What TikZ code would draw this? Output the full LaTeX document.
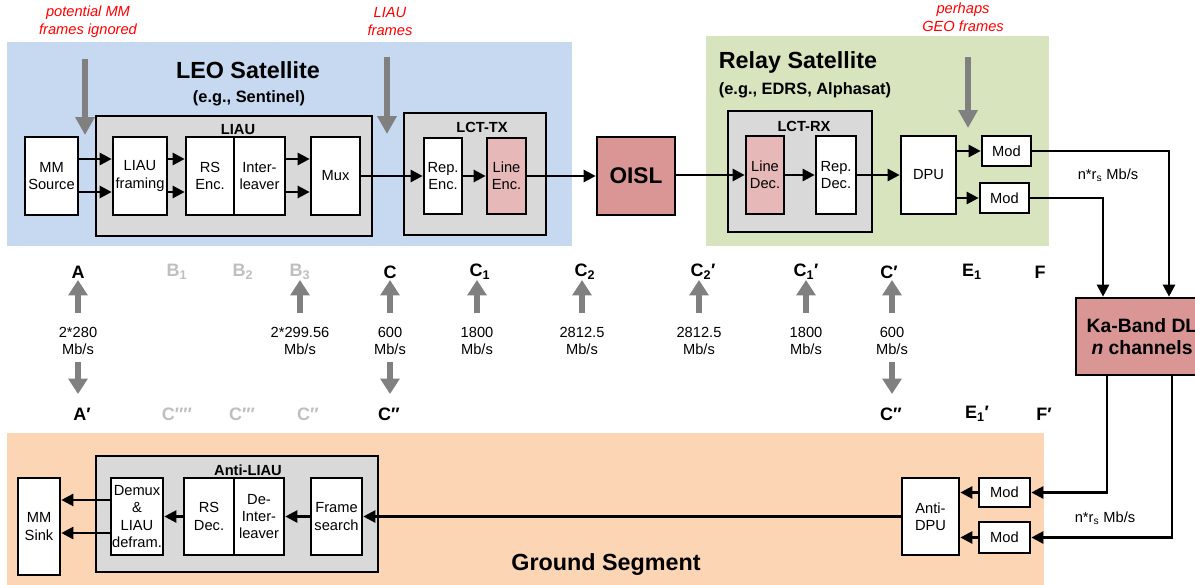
\documentclass[tikz,border=0pt]{standalone}
\usepackage{fontspec}
\setmainfont{Liberation Sans}
\usetikzlibrary{arrows.meta,calc}
\definecolor{leobg}{HTML}{C6D9F1}
\definecolor{relaybg}{HTML}{D7E4BD}
\definecolor{groundbg}{HTML}{FCD5B5}
\definecolor{grpbox}{HTML}{D9D9D9}
\definecolor{oislc}{HTML}{D99694}
\definecolor{linec}{HTML}{E6B9B8}
\definecolor{garrow}{HTML}{808080}
\definecolor{lgray}{HTML}{BFBFBF}
\begin{document}
\begin{tikzpicture}[x=0.75pt,y=-0.75pt,
  rect/.style n args={4}{minimum width={(#3-#1)*0.75pt}, minimum height={(#4-#2)*0.75pt}, at={({(#1+#3)/2},{(#2+#4)/2})}},
  grp/.style={fill=grpbox, draw=black, line width=2pt, inner sep=0pt},
  blk/.style={fill=white, draw=black, line width=2pt, inner sep=0pt, align=center, font=\fontsize{11}{13}\selectfont},
  conn/.style={draw=black, line width=1.9pt, -{Triangle[length=9pt,width=9pt]}},
  bigarrow/.style={draw=garrow, line width=4.5pt, -{Triangle[length=13.5pt,width=14pt]}},
  midarrow/.style={draw=garrow, line width=5pt, -{Triangle[length=11.5pt,width=14pt]}},
  redlbl/.style={text=red, font=\fontsize{11}{13.5}\selectfont\itshape, align=center},
  ptlbl/.style={font=\fontsize{13.5}{16}\selectfont\bfseries, inner sep=0pt},
  gptlbl/.style={ptlbl, text=lgray},
  rate/.style={font=\fontsize{11}{12.75}\selectfont, align=center},
  grplbl/.style={font=\fontsize{11}{13}\selectfont\bfseries},
  titlelbl/.style={font=\fontsize{17.5}{21}\selectfont\bfseries},
  subtitlelbl/.style={font=\fontsize{12.3}{15}\selectfont\bfseries}
]
\clip (0,0) rectangle (1195,585);
\fill[white] (0,0) rectangle (1195,585);

% backgrounds
\fill[leobg] (7,42) rectangle (572,246);
\fill[relaybg] (706,36) rectangle (1049,246);
\fill[groundbg] (7,433) rectangle (1044,585);

% titles
\node[titlelbl] (leot) at (248,70) {LEO Satellite};
\node[subtitlelbl] (leos) at (249,98) {(e.g., Sentinel)};
\node[titlelbl] (relt) at (798,62) {Relay Satellite};
\node[subtitlelbl] (rels) at (805,90) {(e.g., EDRS, Alphasat)};
\node[titlelbl] (grt) at (606,565) {Ground Segment};

% group boxes
\node[grp, rect={96}{116}{372}{236}] (liau) {};
\node[grplbl] (liaul) at (238,130) {LIAU};
\node[grp, rect={404}{113}{546}{235}] (lcttx) {};
\node[grplbl] (lcttxl) at (482,127) {LCT-TX};
\node[grp, rect={728}{111}{872}{232}] (lctrx) {};
\node[grplbl] (lctrxl) at (804,126) {LCT-RX};
\node[grp, rect={96}{456}{378}{572}] (aliau) {};
\node[grplbl] (aliaul) at (248,470) {Anti-LIAU};

% LEO blocks
\node[blk, rect={25}{137}{78}{215}] (mmsrc) {MM\\Source};
\node[blk, rect={113}{137}{167}{215}] (liaufr) {LIAU\\framing};
\node[blk, rect={186}{137}{234}{215}] (rsenc) {RS\\Enc.};
\node[blk, rect={234}{137}{285}{215}] (intl) {Inter-\\leaver};
\node[blk, rect={311}{137}{360}{215}] (mux) {Mux};
\node[blk, rect={424}{138}{462}{214}] (repenc) {Rep.\\Enc.};
\node[blk, fill=linec, rect={487}{138}{526}{214}] (lineenc) {Line\\Enc.};
\node[blk, fill=oislc, font=\fontsize{17}{20}\selectfont\bfseries, rect={597}{137}{675}{215}] (oisl) {OISL};

% Relay blocks
\node[blk, fill=linec, rect={746}{136}{784}{214}] (linedec) {Line\\Dec.};
\node[blk, rect={816}{136}{856}{214}] (repdec) {Rep.\\Dec.};
\node[blk, rect={901}{136}{956}{214}] (dpu) {DPU};
\node[blk, rect={982}{136}{1031}{166}] (mod1) {Mod};
\node[blk, rect={980}{183}{1029}{213}] (mod2) {Mod};

% Ka band
\node[blk, fill=oislc, font=\fontsize{14.5}{16}\selectfont\bfseries, rect={1076}{298}{1208}{375}] (ka) {Ka-Band DL\\\textit{n} channels};

% Ground blocks
\node[blk, rect={18}{478}{60}{575}] (mmsink) {MM\\Sink};
\node[blk, rect={111}{478}{163}{555}] (demux) {Demux\\\&\\LIAU\\defram.};
\node[blk, rect={184}{478}{234}{555}] (rsdec) {RS\\Dec.};
\node[blk, rect={234}{478}{284}{555}] (deint) {De-\\Inter-\\leaver};
\node[blk, rect={311}{478}{362}{555}] (frame) {Frame\\search};
\node[blk, rect={902}{478}{959}{555}] (antidpu) {Anti-\\DPU};
\node[blk, rect={979}{478}{1030}{507}] (mod1g) {Mod};
\node[blk, rect={979}{522}{1030}{553}] (mod2g) {Mod};

% LEO connectors
\draw[conn] ([yshift=12.75pt]mmsrc.east) -- ([yshift=12.75pt]liaufr.west);
\draw[conn] ([yshift=-12pt]mmsrc.east) -- ([yshift=-12pt]liaufr.west);
\draw[conn] ([yshift=12.75pt]liaufr.east) -- ([yshift=12.75pt]rsenc.west);
\draw[conn] ([yshift=-12pt]liaufr.east) -- ([yshift=-12pt]rsenc.west);
\draw[conn] ([yshift=12.75pt]intl.east) -- ([yshift=12.75pt]mux.west);
\draw[conn] ([yshift=-12pt]intl.east) -- ([yshift=-12pt]mux.west);
\draw[conn] (mux.east) -- (mux.east -| repenc.west);
\draw[conn] (repenc.east) -- (repenc.east -| lineenc.west);
\draw[conn] (lineenc.east) -- (lineenc.east -| oisl.west);
\draw[conn] (oisl.east |- linedec.west) -- (linedec.west);
\draw[conn] (linedec.east) -- (linedec.east -| repdec.west);
\draw[conn] (repdec.east) -- (repdec.east -| dpu.west);
\draw[conn] (dpu.east |- mod1.west) -- (mod1.west);
\draw[conn] (dpu.east |- mod2.west) -- (mod2.west);

% Ka band connectors
\coordinate (kx1) at (1169,300);
\coordinate (kx2) at (1103,300);
\coordinate (kx3) at (1107,400);
\coordinate (kx4) at (1172,400);
\draw[conn] (mod1.east) -| (kx1 |- ka.north);
\draw[conn] (mod2.east) -| (kx2 |- ka.north);
\draw[conn] (kx3 |- ka.south) |- (mod1g.east);
\draw[conn] (kx4 |- ka.south) |- (mod2g.east);
\node[font=\fontsize{11}{13}\selectfont] (rate1) at (1108,175) {n*r\textsubscript{s} Mb/s};
\node[font=\fontsize{11}{13}\selectfont] (rate2) at (1105,518) {n*r\textsubscript{s} Mb/s};

% Ground connectors
\draw[conn] (mod1g.west) -- (mod1g.west -| antidpu.east);
\draw[conn] (mod2g.west) -- (mod2g.west -| antidpu.east);
\draw[conn] (antidpu.west) -- (antidpu.west -| frame.east);
\draw[conn] (frame.west) -- (frame.west -| deint.east);
\draw[conn] (rsdec.west) -- (rsdec.west -| demux.east);
\draw[conn] ([yshift=12.4pt]demux.west) -- ([yshift=12.4pt]demux.west -| mmsink.east);
\draw[conn] ([yshift=-12.4pt]demux.west) -- ([yshift=-12.4pt]demux.west -| mmsink.east);

% red labels and big gray arrows
\node[redlbl] (red1) at (88,22) {potential MM\\frames ignored};
\node[redlbl] (red2) at (390,22) {LIAU\\frames};
\node[redlbl] (red3) at (963,17) {perhaps\\GEO frames};
\coordinate (g1s) at (85,59);  \coordinate (g1e) at (85,135);
\coordinate (g2s) at (387,57); \coordinate (g2e) at (387,134);
\coordinate (g3s) at (968,57); \coordinate (g3e) at (968,128);
\draw[bigarrow] (g1s) -- (g1e);
\draw[bigarrow] (g2s) -- (g2e);
\draw[bigarrow] (g3s) -- (g3e);

% reference point labels (top row)
\node[ptlbl] (pA) at (78,272) {A};
\node[gptlbl] (pB1) at (177,272) {B\textsubscript{1}};
\node[gptlbl] (pB2) at (243,272) {B\textsubscript{2}};
\node[gptlbl] (pB3) at (300,272) {B\textsubscript{3}};
\node[ptlbl] (pC) at (390,272) {C};
\node[ptlbl] (pC1) at (480,272) {C\textsubscript{1}};
\node[ptlbl] (pC2) at (585,272) {C\textsubscript{2}};
\node[ptlbl] (pC2p) at (703,272) {C\textsubscript{2}′};
\node[ptlbl] (pC1p) at (806,272) {C\textsubscript{1}′};
\node[ptlbl] (pCp) at (889,272) {C′};
\node[ptlbl] (pE1) at (972,272) {E\textsubscript{1}};
\node[ptlbl] (pF) at (1040,272) {F};
% bottom row
\node[ptlbl] (qA) at (82,414) {A′};
\node[gptlbl] (qC4) at (177,414) {C″″};
\node[gptlbl] (qC3) at (242,414) {C″′};
\node[gptlbl] (qC2) at (308,414) {C″};
\node[ptlbl] (qC) at (389,414) {C″};
\node[ptlbl] (qCp) at (891,414) {C″};
\node[ptlbl] (qE1) at (977,414) {E\textsubscript{1}′};
\node[ptlbl] (qF) at (1044,414) {F′};

% rates and gray arrows
\foreach \nm/\xx/\txt in {rA/78/2*280, rB/300/2*299.56, rC/390/600, rC1/477/1800, rC2/582/2812.5, rC2p/699/2812.5, rC1p/806/1800, rCp/892/600}{
  \node[rate] (\nm) at (\xx,341) {\txt\\Mb/s};
  \coordinate (\nm s) at (\xx,313);
  \coordinate (\nm e) at (\xx,280);
  \draw[midarrow] (\nm s) -- (\nm e);
}
\foreach \nm/\xx in {dA/78, dC/390, dCp/892}{
  \coordinate (\nm s) at (\xx,362);
  \coordinate (\nm e) at (\xx,394);
  \draw[midarrow] (\nm s) -- (\nm e);
}
\end{tikzpicture}
\end{document}
